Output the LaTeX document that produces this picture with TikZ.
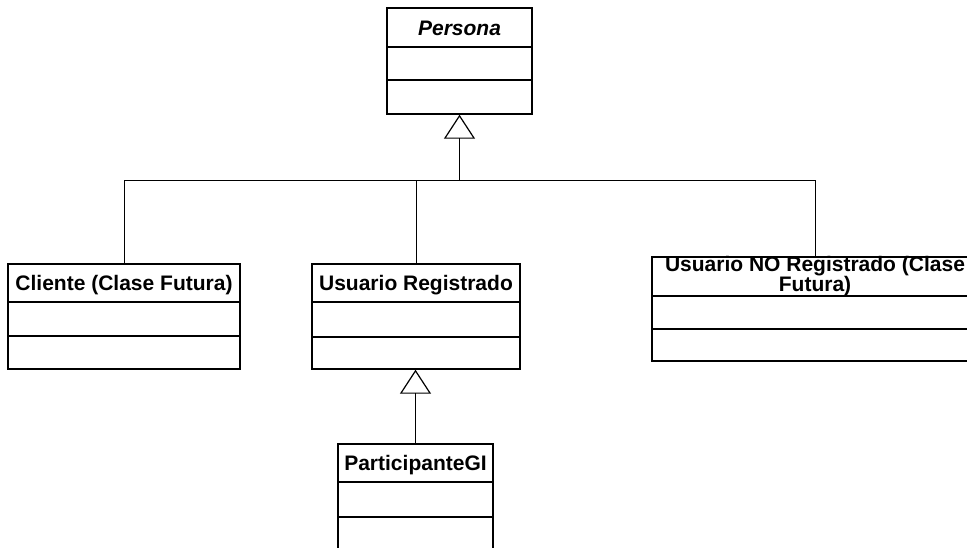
\documentclass[tikz,border=0pt]{standalone}
\usepackage{fontspec}
\setmainfont{Liberation Sans}
\usetikzlibrary{arrows.meta}
\begin{document}
\begin{tikzpicture}[x=1pt,y=-1pt,
  box/.style={draw, line width=1.4pt, inner sep=0pt, fill=none},
  divider/.style={line width=1.4pt},
  title/.style={font=\fontsize{21}{20.5}\selectfont\bfseries, inner sep=0pt, anchor=base, align=center},
  conn/.style={line width=0.9pt},
  gen/.style={line width=0.9pt, -{Triangle[open,length=24pt,width=31pt,line width=1.2pt]}}]
\useasboundingbox (0,0) rectangle (967,547);
\clip (0,0) rectangle (967,547);
\fill[white] (0,0) rectangle (967,547);

% Persona
\node[box, minimum width=145pt, minimum height=106pt] (persona) at (459.5,61) {};
\draw[divider] (persona.west |- 0,47) -- (persona.east |- 0,47);
\draw[divider] (persona.west |- 0,80) -- (persona.east |- 0,80);
\node[title] (personaT) at (459.5,35) {\itshape Persona};

% Cliente
\node[box, minimum width=232pt, minimum height=105pt] (cliente) at (124,316.5) {};
\draw[divider] (cliente.west |- 0,302) -- (cliente.east |- 0,302);
\draw[divider] (cliente.west |- 0,336) -- (cliente.east |- 0,336);
\node[title] (clienteT) at (124,290.5) {Cliente (Clase Futura)};

% Usuario Registrado
\node[box, minimum width=208pt, minimum height=105pt] (usreg) at (416,316.5) {};
\draw[divider] (usreg.west |- 0,302) -- (usreg.east |- 0,302);
\draw[divider] (usreg.west |- 0,337) -- (usreg.east |- 0,337);
\node[title] (usregT) at (416,290) {Usuario Registrado};

% Usuario NO Registrado
\node[box, minimum width=326pt, minimum height=104pt] (noreg) at (815,309) {};
\draw[divider] (noreg.west |- 0,296) -- (noreg.east |- 0,296);
\draw[divider] (noreg.west |- 0,329) -- (noreg.east |- 0,329);
\node[title, anchor=base] (noregT) at (815,271) {Usuario NO Registrado (Clase};
\node[title, anchor=base] (noregT2) at (815,291.5) {Futura)};

% ParticipanteGI
\node[box, minimum width=155pt, minimum height=106pt] (part) at (415.5,497) {};
\draw[divider] (part.west |- 0,482) -- (part.east |- 0,482);
\draw[divider] (part.west |- 0,517) -- (part.east |- 0,517);
\node[title] (partT) at (415.5,470) {ParticipanteGI};

% connectors
\coordinate (j0) at (459.5,180);
\draw[conn] (cliente.north) |- (noreg.north |- j0) -- (noreg.north);
\draw[conn] (usreg.north) -- (usreg.north |- j0);
\draw[gen] (j0) -- (persona.south);
\draw[gen] (part.north) -- (part.north |- usreg.south);
\end{tikzpicture}
\end{document}
